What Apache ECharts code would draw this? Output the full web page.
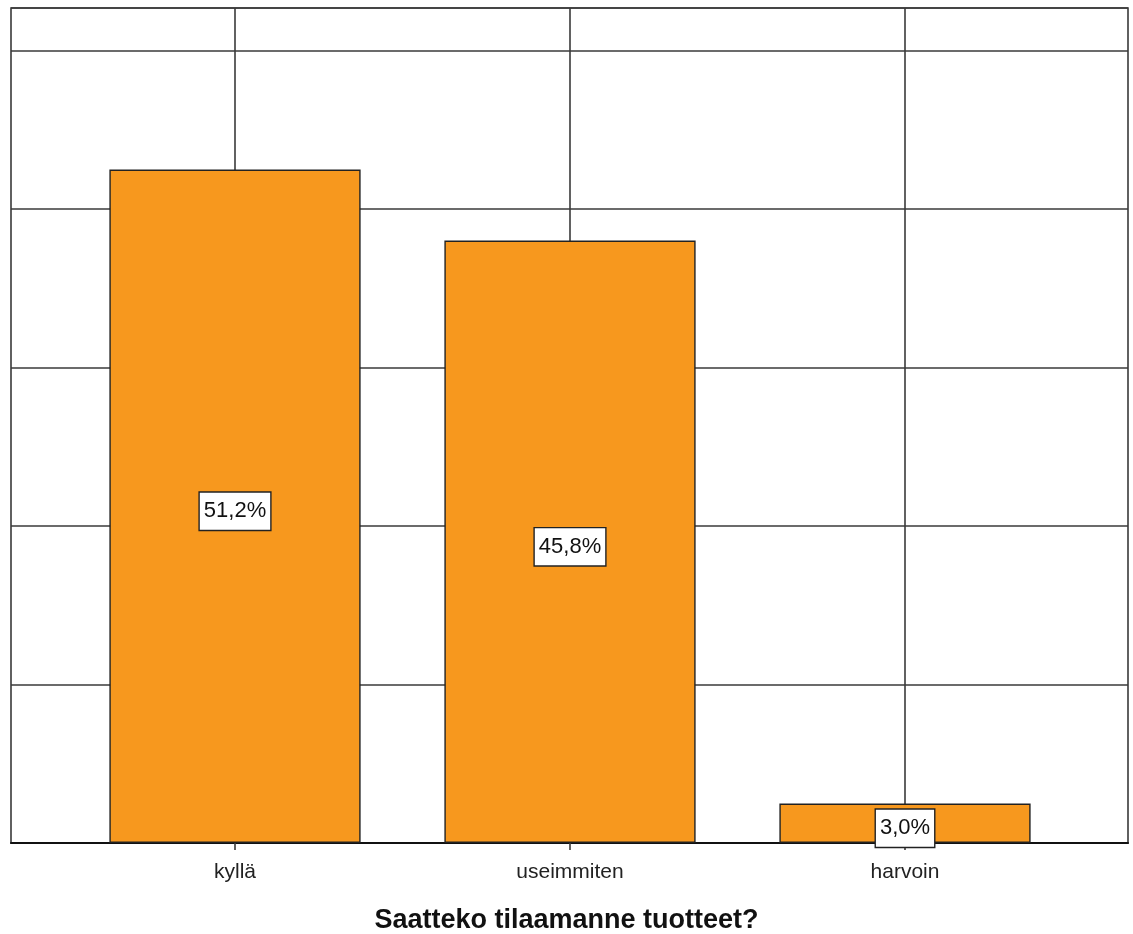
<!DOCTYPE html>
<html>
<head>
<meta charset="utf-8">
<title>Saatteko tilaamanne tuotteet?</title>
<script src="https://cdn.jsdelivr.net/npm/echarts@6/dist/echarts.min.js"></script>
<style>
  html, body { margin: 0; padding: 0; background: #ffffff; }
  #chart { width: 1133px; height: 934px; }
</style>
</head>
<body>
<div id="chart"></div>
<script>
// Answers to "Saatteko tilaamanne tuotteet?" (share of respondents, %)
const categories = ['kyllä', 'useimmiten', 'harvoin'];
const shares = [51.2, 45.8, 3.0];

// Horizontal gridlines fall every 20 respondents out of n = 166
const respondents = 166;
const gridStepCount = 20;
const gridStep = 100 * gridStepCount / respondents;
const axisMax = 63.48;

const titleText = 'Saatteko tilaamanne tuotteet?';

const fmtPct = v => v.toFixed(1).replace('.', ',') + '%';

const lineColor = '#3a3a3a';
const lineWidth = 1.6;
const font = 'Liberation Sans, Arial, sans-serif';

const chart = echarts.init(document.getElementById('chart'), null, { renderer: 'canvas' });

chart.setOption({
  backgroundColor: '#ffffff',
  animation: false,
  title: {
    text: titleText,
    left: 'center',
    top: 902,
    textStyle: { fontFamily: font, fontSize: 27, fontWeight: 'bold', color: '#111' }
  },
  grid: [
    // full frame with horizontal gridlines
    { left: 11, right: 5, top: 8, bottom: 91, show: true, borderColor: lineColor, borderWidth: lineWidth, backgroundColor: 'transparent' },
    // bar area: one band per category
    { left: 67.5, right: 60.5, top: 8, bottom: 91 }
  ],
  xAxis: [
    {
      gridIndex: 0,
      type: 'category',
      data: categories,
      axisLine: { show: true, lineStyle: { color: '#111', width: 2 } },
      axisTick: { show: false },
      axisLabel: { show: false },
      splitLine: { show: false }
    },
    {
      gridIndex: 1,
      type: 'category',
      data: categories,
      boundaryGap: true,
      axisLine: { show: false },
      axisTick: { show: true, alignWithLabel: true, length: 7, lineStyle: { color: lineColor, width: lineWidth } },
      splitLine: { show: true, alignWithLabel: true, lineStyle: { color: lineColor, width: lineWidth } },
      axisLabel: { fontFamily: font, fontSize: 21, color: '#222', margin: 19 }
    }
  ],
  yAxis: [
    {
      gridIndex: 0,
      type: 'value',
      min: 0,
      max: axisMax,
      interval: gridStep,
      axisLine: { show: false },
      axisTick: { show: false },
      axisLabel: { show: false },
      splitLine: { show: true, lineStyle: { color: lineColor, width: lineWidth } }
    },
    {
      gridIndex: 1,
      type: 'value',
      min: 0,
      max: axisMax,
      interval: gridStep,
      axisLine: { show: false },
      axisTick: { show: false },
      axisLabel: { show: false },
      splitLine: { show: false }
    }
  ],
  series: [
    {
      type: 'bar',
      xAxisIndex: 1,
      yAxisIndex: 1,
      data: shares,
      barWidth: '75%',
      z: 3,
      itemStyle: { color: '#f7981e', borderColor: '#222', borderWidth: 1.4 },
      label: {
        show: true,
        position: 'inside',
        offset: [0, 5],
        formatter: p => fmtPct(p.value),
        fontFamily: font,
        fontSize: 22,
        color: '#111',
        backgroundColor: '#ffffff',
        borderColor: '#222',
        borderWidth: 1.4,
        padding: [8, 4, 7, 4]
      }
    }
  ]
});
</script>
</body>
</html>
